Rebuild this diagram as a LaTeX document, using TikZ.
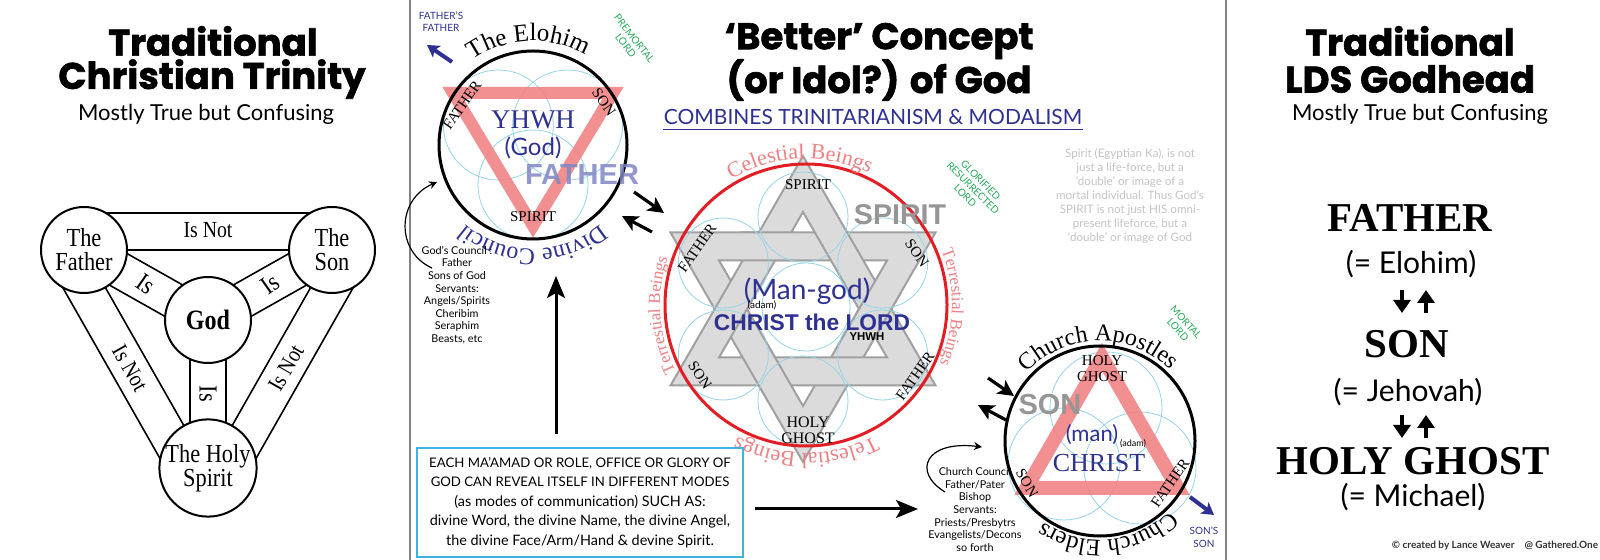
\documentclass[tikz,border=0pt]{standalone}
\usepackage{fontspec}
\setmainfont{Liberation Serif}
\newfontfamily\cserif{Liberation Serif}[FakeStretch=0.86]
\newfontfamily\titlefont{Poppins}[BoldFeatures={FakeBold=1.6}]
\newfontfamily\lightfont{Lato}
\newfontfamily\bsans{Liberation Sans}
\usetikzlibrary{arrows.meta,decorations.text,calc}
\definecolor{dblue}{RGB}{46,49,146}
\definecolor{salmon}{RGB}{240,128,130}
\definecolor{lblue}{RGB}{150,212,232}
\definecolor{starfill}{RGB}{219,219,219}
\definecolor{starline}{RGB}{160,160,160}
\definecolor{redc}{RGB}{226,30,36}
\definecolor{pinkt}{RGB}{240,128,132}
\definecolor{greent}{RGB}{40,170,90}
\definecolor{gtext}{RGB}{196,196,196}
\definecolor{boxc}{RGB}{60,180,222}
\definecolor{fathc}{RGB}{128,134,196}
\definecolor{sgray}{RGB}{150,150,150}
\definecolor{divc}{RGB}{130,130,130}
\newcommand\fsz[2]{\fontsize{#1}{#2}\selectfont}
\newcommand\arctext[6]{\path[decorate,decoration={text along path,text align=center,text={|#5|#6}}] ($(#1)+(#3:#2)$) arc[start angle=#3,end angle=#4,radius=#2];}
\begin{document}
\begin{tikzpicture}[x=0.5pt,y=0.5pt,
  lcirc/.style={circle,draw,line width=1pt,fill=white,minimum size=43pt,inner sep=0pt,align=center,font=\cserif\fsz{13pt}{12pt}},
  bandln/.style={line width=0.8pt},
  islab/.style={font=\cserif\fsz{13pt}{13pt},inner sep=0pt},
  isnot/.style={font=\cserif\fsz{11.5pt}{11pt},inner sep=0pt},
  ttl/.style={font=\titlefont\bfseries\fsz{18.5pt}{20pt},inner sep=0pt},
  subt/.style={font=\lightfont\fsz{11pt}{12pt},inner sep=0pt},
  smallserif/.style={font=\fsz{7.5pt}{8pt},inner sep=0pt,align=center},
  bcirc/.style={draw=lblue,line width=0.4pt},
  salmontri/.style={draw=salmon,line width=6pt,line join=miter,opacity=0.88},
  bigcirc/.style={circle,draw,line width=1.5pt,inner sep=0pt},
  bigarrow/.style={line width=1.5pt,-{Stealth[length=11pt,width=9pt,inset=2.5pt]}},
  midarrow/.style={line width=1.6pt,-{Stealth[length=8pt,width=8pt,inset=2pt]}},
  thinarrow/.style={line width=0.6pt,-{Stealth[length=4pt,width=4pt]}},
  bluearrow/.style={dblue,line width=2pt,-{Stealth[length=6pt,width=7pt,inset=1.5pt]}},
  rparrow/.style={line width=1.8pt,-{Triangle[length=6.5pt,width=8.5pt]}},
  greentxt/.style={text=greent,font=\lightfont\fsz{5pt}{5.5pt},align=center,inner sep=0pt},
  starband/.style={fill=starfill,draw=starline,line width=1pt,even odd rule},
  smallsans/.style={font=\lightfont\fsz{5.4pt}{6.3pt},align=center,inner sep=0pt}
]
\useasboundingbox (0,0) rectangle (1600,-560);
\fill[white] (0,0) rectangle (1600,-560);

% dividers
\draw[divc,line width=0.75pt] (410,0) -- (410,-560);
\draw[divc,line width=0.75pt] (1226,0) -- (1226,-560);

% ================= LEFT PANEL =================
\node[ttl] (t1a) at (213,-41) {Traditional};
\node[ttl] (t1b) at (212,-79) {Christian Trinity};
\node[subt] (t1c) at (206,-114) {Mostly True but Confusing};

\draw[bandln] (84,-213) -- (332,-213);
\draw[bandln] (84,-250) -- (332,-250);
\draw[bandln] (75.1,-265.7) -- (199.1,-335.7);
\draw[bandln] (92.9,-234.3) -- (216.9,-304.3);
\draw[bandln] (340.9,-265.7) -- (216.9,-335.7);
\draw[bandln] (323.1,-234.3) -- (199.1,-304.3);
\draw[bandln] (190,-320) -- (190,-468);
\draw[bandln] (226,-320) -- (226,-468);
\draw[bandln] (84,-250) -- (208,-468);
\draw[bandln] (51.8,-268.3) -- (175.8,-486.3);
\draw[bandln] (332,-250) -- (208,-468);
\draw[bandln] (364.2,-268.3) -- (240.2,-486.3);

\node[lcirc] (fa) at (84,-250) {The\\Father};
\node[lcirc] (so) at (332,-250) {The\\Son};
\node[lcirc,font=\cserif\bfseries\fsz{14pt}{14pt}] (go) at (208,-320) {God};
\node[lcirc] (hs) at (208,-468) {The Holy\\Spirit};

\node[isnot] (l1) at (208,-230) {Is Not};
\node[islab,rotate=-35] (l2) at (146,-284) {Is};
\node[islab,rotate=35] (l3) at (270,-284) {Is};
\node[islab,rotate=-90] (l4) at (208,-394) {Is};
\node[isnot,rotate=-60.4] (l5) at (130,-368) {Is Not};
\node[isnot,rotate=60.4] (l6) at (286,-368) {Is Not};

% ================= MIDDLE PANEL =================
\node[ttl] (t2a) at (879,-41) {‘Better’ Concept};
\node[ttl] (t2b) at (879,-80) {(or Idol?) of God};
\node[font=\lightfont\fsz{10.5pt}{12pt},text=dblue,inner sep=0pt,anchor=base] (t2c) at (873,-125) {COMBINES TRINITARIANISM \& MODALISM};
\draw[dblue,line width=0.5pt] ([yshift=-2.5pt]t2c.base west) -- ([yshift=-2.5pt]t2c.base east);

% upper-left circle
\coordinate (U) at (533,-145);
\foreach \a in {150,30,270} \draw[bcirc] (U) ++(\a:40) circle[radius=55];
\draw[salmontri] (453,-93) -- (613,-93) -- (533,-226) -- cycle;
\node[bigcirc,minimum size=94pt] (uc) at (U) {};
\arctext{uc}{104}{165}{20}{\fsz{12.5pt}{12.5pt}}{The Elohim}
\arctext{uc}{104}{-20}{-160}{\fsz{12pt}{12pt}\color{dblue}}{Divine Council}
\node[font=\fsz{13.5pt}{14pt},text=dblue,inner sep=0pt] (yh) at (533,-120) {YHWH};
\node[font=\lightfont\fsz{12pt}{13pt},text=dblue,inner sep=0pt] (gd) at (533,-148) {(God)};
\node[font=\bsans\bfseries\fsz{14.5pt}{15pt},text=fathc,text opacity=0.85,inner sep=0pt] (fb) at (582,-175) {FATHER};
\node[smallserif,rotate=55] (uf) at (462,-105) {FATHER};
\node[smallserif,rotate=-55] (us) at (604,-102) {SON};
\node[smallserif] (usp) at (533,-217) {SPIRIT};

\node[font=\lightfont\fsz{5pt}{6pt},text=dblue,align=center,inner sep=0pt] (ff) at (441,-22) {FATHER’S\\FATHER};
\coordinate (ffa) at (452,-62); \coordinate (ffb) at (427,-45);
\draw[bluearrow] (ffa) -- (ffb);
\node[greentxt,rotate=-52] (pl) at (630,-42) {PREMORTAL\\LORD};

\node[smallsans] (gc) at (457,-295) {God’s Council :\\Father\\Sons of God\\Servants:\\Angels/Spirits\\Cheribim\\Seraphim\\Beasts, etc};
\coordinate (ga1) at (432,-268); \coordinate (ga2) at (437,-182);
\draw[thinarrow] (ga1) .. controls (396,-252) and (396,-200) .. (ga2);

\coordinate (da1) at (634,-192); \coordinate (da2) at (664,-213);
\coordinate (db1) at (652,-232); \coordinate (db2) at (622,-216);
\draw[midarrow] (da1) -- (da2);
\draw[midarrow] (db1) -- (db2);

\coordinate (ua1) at (556,-434); \coordinate (ua2) at (556,-276);
\draw[bigarrow] (ua1) -- (ua2);

% star
\begin{scope}[shift={(803,-309)}]
  \path[starband] (270:153) -- (30:153) -- (150:153) -- cycle (270:97) -- (30:97) -- (150:97) -- cycle;
  \path[starband] (90:153) -- (210:153) -- (330:153) -- cycle (90:97) -- (210:97) -- (330:97) -- cycle;
  \begin{scope}
    \clip (0:72) circle[radius=31] (120:72) circle[radius=31] (240:72) circle[radius=31];
    \path[starband] (270:153) -- (30:153) -- (150:153) -- cycle (270:97) -- (30:97) -- (150:97) -- cycle;
  \end{scope}
  \foreach \a in {30,90,...,330} \draw[bcirc] (\a:92) circle[radius=45];
  \draw[bcirc] (3,2) circle[radius=44];
\end{scope}
\node[circle,draw=redc,line width=1.5pt,minimum size=141pt,inner sep=0pt] (rc) at (806,-305) {};
\arctext{rc}{146}{142}{43}{\fsz{11pt}{11pt}\color{pinkt}}{Celestial Beings}
\arctext{rc}{146}{229}{139}{\fsz{8.5pt}{8.5pt}\color{pinkt}}{Terrestial Beings}
\arctext{rc}{146}{43}{-45}{\fsz{8.5pt}{8.5pt}\color{pinkt}}{Terrestial Beings}
\arctext{rc}{148}{-40}{-140}{\fsz{11pt}{11pt}\color{pinkt}}{Telestial Beings}

\node[smallserif] (ssp) at (808,-185) {SPIRIT};
\node[smallserif,rotate=55] (sf1) at (697,-248) {FATHER};
\node[smallserif,rotate=-55] (ss1) at (917,-253) {SON};
\node[smallserif,rotate=-56] (ss2) at (700,-375) {SON};
\node[smallserif,rotate=55] (sf2) at (915,-376) {FATHER};
\node[smallserif,font=\fsz{8pt}{8pt}] (shg) at (808,-430) {HOLY\\GHOST};
\node[font=\bsans\bfseries\fsz{14.3pt}{15pt},text=sgray,inner sep=0pt] (gsp) at (900,-215) {SPIRIT};
\node[font=\lightfont\fsz{14pt}{15pt},text=dblue,inner sep=0pt] (mg) at (807,-291) {(Man-god)};
\node[font=\lightfont\fsz{5pt}{5pt},inner sep=0pt] (ad1) at (762,-305) {(adam)};
\node[font=\bsans\bfseries\fsz{11.4pt}{12pt},text=dblue,inner sep=0pt] (ctl) at (812,-322) {CHRIST the LORD};
\node[font=\bsans\bfseries\fsz{5.7pt}{6pt},inner sep=0pt] (yh2) at (867,-337) {YHWH};

% right grey note
\node[font=\lightfont\fsz{5.8pt}{6.95pt},text=gtext,align=center,inner sep=0pt] (note) at (1130,-196) {Spirit (Egyptian Ka), is not\\just a life-force, but a\\‘double’ or image of a\\mortal individual. Thus God’s\\SPIRIT is not just HIS omni-\\present lifeforce, but a\\‘double’ or image of God};
\node[greentxt,rotate=-45] (grl) at (973,-188) {GLORIFIED\\RESURRECTED\\LORD};

% lower-right circle
\draw[bcirc] (1106,-408) circle[radius=56];
\draw[bcirc] (1064,-464) circle[radius=56];
\draw[bcirc] (1140,-468) circle[radius=56];
\draw[salmontri,line width=7pt] (1102,-357) -- (1177.6,-488) -- (1026.4,-488) -- cycle;
\node[bigcirc,minimum size=95pt] (lc) at (1100,-441) {};
\arctext{lc}{100}{160}{22}{\fsz{12pt}{12pt}}{Church Apostles}
\arctext{lc}{99}{-15}{-155}{\fsz{12pt}{12pt}}{Church Elders}
\node[smallserif,font=\fsz{7.5pt}{8pt}] (lhg) at (1102,-369) {HOLY\\GHOST};
\node[font=\bsans\bfseries\fsz{14.5pt}{15pt},text=sgray,inner sep=0pt] (gson) at (1050,-405) {SON};
\node[font=\lightfont\fsz{11pt}{12pt},text=dblue,inner sep=0pt] (man) at (1092,-435) {(man)};
\node[font=\lightfont\fsz{4.5pt}{5pt},inner sep=0pt] (ad2) at (1133,-444) {(adam)};
\node[font=\fsz{13pt}{14pt},text=dblue,inner sep=0pt] (chr) at (1099,-463) {CHRIST};
\node[smallserif,rotate=-60] (lson) at (1027,-483) {SON};
\node[smallserif,rotate=55] (lfa) at (1170,-483) {FATHER};
\node[greentxt,rotate=-48] (ml) at (1182,-326) {MORTAL\\LORD};

\coordinate (la1) at (988,-378); \coordinate (la2) at (1014,-396);
\coordinate (lb1) at (1006,-420); \coordinate (lb2) at (978,-405);
\draw[midarrow] (la1) -- (la2);
\draw[midarrow] (lb1) -- (lb2);

\node[smallsans] (cc) at (975,-509.5) {Church Council\\Father/Pater\\Bishop\\Servants:\\Priests/Presbytrs\\Evangelists/Decons\\so forth};
\coordinate (ca1) at (945,-492); \coordinate (ca2) at (982,-447);
\draw[thinarrow] (ca1) .. controls (912,-472) and (925,-440) .. (ca2);

\node[font=\lightfont\fsz{5pt}{6.5pt},text=dblue,align=center,inner sep=0pt] (ss) at (1204,-537) {SON’S\\SON};
\coordinate (sa1) at (1190,-497); \coordinate (sa2) at (1214,-515);
\draw[bluearrow] (sa1) -- (sa2);

% bottom box
\node[draw=boxc,line width=0.75pt,minimum width=163pt,minimum height=54.5pt,inner sep=0pt,align=center,font=\lightfont\fsz{7.2pt}{9.75pt}] (box) at (580,-502.5) {{\fsz{6.6pt}{9.75pt}EACH MA’AMAD OR ROLE, OFFICE OR GLORY OF}\\{\fsz{6.6pt}{9.75pt}GOD CAN REVEAL ITSELF IN DIFFERENT MODES}\\(as modes of communication) SUCH AS:\\divine Word, the divine Name, the divine Angel,\\the divine Face/Arm/Hand \& devine Spirit.};
\coordinate (ra1) at (755,-509); \coordinate (ra2) at (918,-509);
\draw[bigarrow] (ra1) -- (ra2);

% ================= RIGHT PANEL =================
\node[ttl] (t3a) at (1410,-41) {Traditional};
\node[ttl] (t3b) at (1410,-79) {LDS Godhead};
\node[subt] (t3c) at (1420,-114) {Mostly True but Confusing};
\node[font=\bfseries\fsz{20.5pt}{21pt},inner sep=0pt] (rf) at (1410,-218) {FATHER};
\node[font=\lightfont\fsz{15pt}{16pt},inner sep=0pt] (re) at (1411,-264) {(= Elohim)};
\node[font=\bfseries\fsz{20.5pt}{21pt},inner sep=0pt] (rs) at (1407,-344) {SON};
\node[font=\lightfont\fsz{15pt}{16pt},inner sep=0pt] (rj) at (1408,-392) {(= Jehovah)};
\node[font=\bfseries\fsz{20.5pt}{21pt},inner sep=0pt] (rh) at (1413,-461) {HOLY GHOST};
\node[font=\lightfont\fsz{15pt}{16pt},inner sep=0pt] (rm) at (1413,-497) {(= Michael)};
\coordinate (p1a) at (1402,-290); \coordinate (p1b) at (1402,-313);
\coordinate (p2a) at (1426,-313); \coordinate (p2b) at (1426,-290);
\draw[rparrow] (p1a) -- (p1b);
\draw[rparrow] (p2a) -- (p2b);
\coordinate (p3a) at (1402,-415); \coordinate (p3b) at (1402,-438);
\coordinate (p4a) at (1426,-438); \coordinate (p4b) at (1426,-415);
\draw[rparrow] (p3a) -- (p3b);
\draw[rparrow] (p4a) -- (p4b);
\node[font=\lightfont\bfseries\fsz{5pt}{5pt},text=black!80,inner sep=0pt] (cp) at (1495,-546) {© created by Lance Weaver\quad @ Gathered.One};
\end{tikzpicture}
\end{document}
